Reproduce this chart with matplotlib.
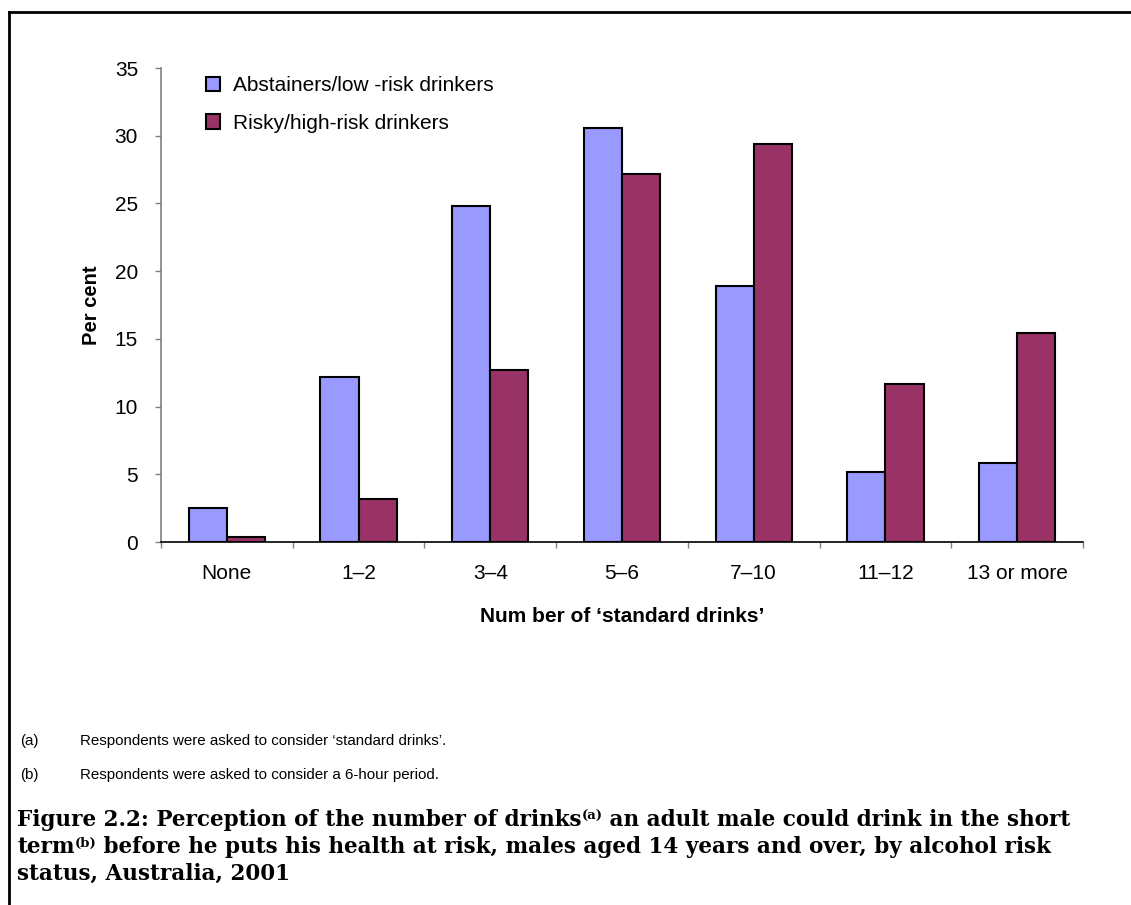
import numpy as np
import matplotlib
matplotlib.use('Agg')
import matplotlib.pyplot as plt
from matplotlib.lines import Line2D

plt.rcParams['font.family'] = ['Liberation Sans', 'DejaVu Sans']

# データ
categories = ['None', '1–2', '3–4', '5–6', '7–10', '11–12', '13 or more']
abstainers = [2.5, 12.2, 24.8, 30.6, 18.9, 5.2, 5.8]
risky = [0.4, 3.2, 12.7, 27.2, 29.4, 11.7, 15.4]
series_names = ['Abstainers/low -risk drinkers', 'Risky/high-risk drinkers']
y_ticks = [0, 5, 10, 15, 20, 25, 30, 35]

footnotes = [('(a)', 'Respondents were asked to consider ‘standard drinks’.'),
             ('(b)', 'Respondents were asked to consider a 6-hour period.')]

W, H = 1131, 905
fig = plt.figure(figsize=(W / 100, H / 100), dpi=100, facecolor='white')
ax = fig.add_axes([161 / W, 1 - 542 / H, 922 / W, 474 / H])

x = np.arange(len(categories))
bw = 0.29
ax.bar(x - bw / 2, abstainers, bw, color='#9999FF', edgecolor='black', linewidth=1.5,
       label=series_names[0])
ax.bar(x + bw / 2, risky, bw, color='#993366', edgecolor='black', linewidth=1.5,
       label=series_names[1])

ax.set_xlim(-0.5, len(categories) - 0.5)
ax.set_ylim(0, 35)

# 軸
for s in ['top', 'right']:
    ax.spines[s].set_visible(False)
ax.spines['left'].set_color('#808080')
ax.spines['left'].set_linewidth(1.2)
ax.spines['bottom'].set_color('black')
ax.spines['bottom'].set_linewidth(1.2)

ax.set_yticks(y_ticks)
ax.tick_params(axis='y', length=4.5, width=1, color='#808080', labelsize=15, pad=12)
ax.set_xticks(np.arange(len(categories) + 1) - 0.5)
ax.set_xticklabels([])
ax.tick_params(axis='x', which='major', length=4.5, width=1, color='#808080')
ax.set_xticks(x, minor=True)
ax.set_xticklabels(categories, minor=True)
ax.tick_params(axis='x', which='minor', length=0, labelsize=15, pad=16)

ax.set_ylabel('Per cent', fontsize=14.5, fontweight='bold', labelpad=10)
ax.set_xlabel('Num ber of ‘standard drinks’', fontsize=15, fontweight='bold', labelpad=17)

# 凡例
ax.legend(loc='upper left', bbox_to_anchor=(0.028, 1.022), frameon=False, fontsize=15,
          handlelength=0.7, handleheight=0.7, handletextpad=0.6, labelspacing=0.9)

# 脚注
for i, (tag, txt) in enumerate(footnotes):
    yy = 1 - (741 + 34 * i) / H
    fig.text(20 / W, yy, tag, fontsize=10.9, va='center')
    fig.text(80 / W, yy, txt, fontsize=10.9, va='center')

# タイトル（上付き文字付き）
renderer = fig.canvas.get_renderer()
serif = ['DejaVu Serif']
title_lines = [
    [('Figure 2.2: Perception of the number of drinks', 0), ('(a)', 1),
     (' an adult male could drink in the short', 0)],
    [('term', 0), ('(b)', 1), (' before he puts his health at risk, males aged 14 years and over, by alcohol risk', 0)],
    [('status, Australia, 2001', 0)],
]
for i, pieces in enumerate(title_lines):
    xp = 17
    yp = 826 + 27 * i
    for txt, sup in pieces:
        fs = 9.5 if sup else 15.5
        t = fig.text(xp / W, 1 - (yp - (6 if sup else 0)) / H, txt, fontsize=fs,
                     fontweight='bold', family=serif, va='baseline')
        bb = t.get_window_extent(renderer)
        xp += bb.width

# 枠線
fig.add_artist(Line2D([9 / W, 1], [1 - 12 / H, 1 - 12 / H], color='black', linewidth=2))
fig.add_artist(Line2D([9 / W, 9 / W], [0, 1 - 12 / H], color='black', linewidth=2))

plt.savefig('out.png', dpi=100, facecolor='white')
plt.close()
